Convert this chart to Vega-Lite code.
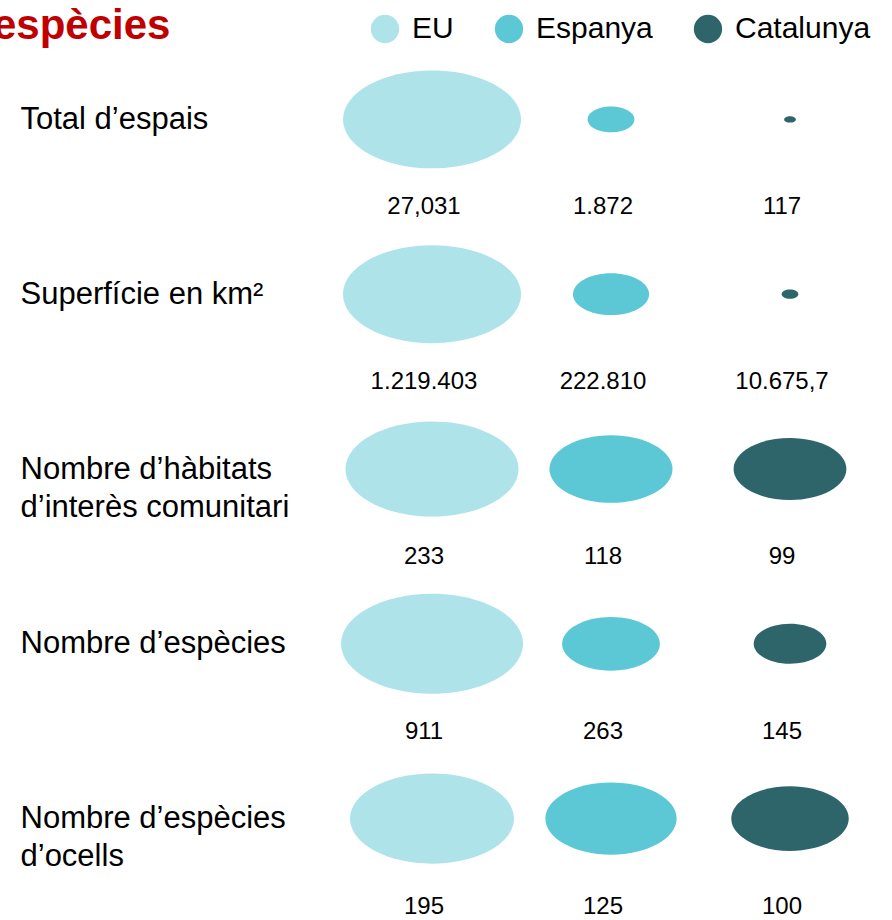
{
  "$schema": "https://vega.github.io/schema/vega-lite/v6.json",
  "autosize": "none",
  "width": 892,
  "height": 902,
  "padding": {"top": 18, "left": 0, "right": 0, "bottom": 0},
  "background": "white",
  "config": {"view": {"stroke": null}, "font": "Liberation Sans"},
  "title": {"text": "espècies", "anchor": "start", "frame": "group", "fontSize": 42, "fontWeight": "bold", "color": "#C00000", "font": "Liberation Sans", "dx": -7, "dy": 38},
  "data": {"values": [
    {"m": "Total d’espais", "c": "EU", "v": 27031, "t": "27,031"},
    {"m": "Total d’espais", "c": "Espanya", "v": 1872, "t": "1.872"},
    {"m": "Total d’espais", "c": "Catalunya", "v": 117, "t": "117"},
    {"m": "Superfície en km²", "c": "EU", "v": 1219403, "t": "1.219.403"},
    {"m": "Superfície en km²", "c": "Espanya", "v": 222810, "t": "222.810"},
    {"m": "Superfície en km²", "c": "Catalunya", "v": 10675.7, "t": "10.675,7"},
    {"m": "Nombre d’hàbitats|d’interès comunitari", "c": "EU", "v": 233, "t": "233"},
    {"m": "Nombre d’hàbitats|d’interès comunitari", "c": "Espanya", "v": 118, "t": "118"},
    {"m": "Nombre d’hàbitats|d’interès comunitari", "c": "Catalunya", "v": 99, "t": "99"},
    {"m": "Nombre d’espècies", "c": "EU", "v": 911, "t": "911"},
    {"m": "Nombre d’espècies", "c": "Espanya", "v": 263, "t": "263"},
    {"m": "Nombre d’espècies", "c": "Catalunya", "v": 145, "t": "145"},
    {"m": "Nombre d’espècies|d’ocells", "c": "EU", "v": 195, "t": "195"},
    {"m": "Nombre d’espècies|d’ocells", "c": "Espanya", "v": 125, "t": "125"},
    {"m": "Nombre d’espècies|d’ocells", "c": "Catalunya", "v": 100, "t": "100"}
  ]},
  "encoding": {
    "x": {"field": "c", "type": "nominal", "sort": null, "scale": {"range": [432, 790], "padding": 0}, "axis": null},
    "y": {"field": "m", "type": "nominal", "sort": null, "scale": {"padding": 0.58},
      "axis": {"title": null, "domain": false, "ticks": false, "grid": false, "labelAlign": "left", "labelPadding": -20, "labelFontSize": 31, "labelLineHeight": 38, "labelFont": "Liberation Sans", "labelColor": "black", "labelBaseline": "middle", "labelLimit": 500, "labelExpr": "split(datum.label, '|')"}}
  },
  "layer": [
    {"transform": [{"filter": {"field": "m", "equal": "Total d’espais"}}],
     "mark": {"type": "point", "filled": true, "opacity": 1, "shape": "M-1,0A1,0.55,0,1,0,1,0A1,0.55,0,1,0,-1,0Z"},
     "encoding": {"size": {"field": "v", "type": "quantitative", "scale": {"range": [0, 31684], "zero": true}, "legend": null},
       "color": {"field": "c", "type": "nominal", "sort": null, "scale": {"domain": ["EU", "Espanya", "Catalunya"], "range": ["#AEE3E9", "#5CC8D6", "#2D656A"]},
         "legend": {"title": null, "orient": "none", "direction": "horizontal", "legendX": 370, "legendY": -4, "symbolType": "circle", "symbolSize": 800, "symbolOpacity": 1, "symbolStrokeWidth": 0, "labelFontSize": 30, "labelFont": "Liberation Sans", "labelColor": "black", "labelOffset": 12, "columnPadding": 40, "padding": 0}}}},
    {"transform": [{"filter": {"field": "m", "equal": "Superfície en km²"}}],
     "mark": {"type": "point", "filled": true, "opacity": 1, "shape": "M-1,0A1,0.55,0,1,0,1,0A1,0.55,0,1,0,-1,0Z"},
     "encoding": {"size": {"field": "v", "type": "quantitative", "scale": {"range": [0, 31684], "zero": true}, "legend": null},
       "color": {"field": "c", "type": "nominal", "sort": null}}},
    {"transform": [{"filter": {"field": "m", "equal": "Nombre d’hàbitats|d’interès comunitari"}}],
     "mark": {"type": "point", "filled": true, "opacity": 1, "shape": "M-1,0A1,0.55,0,1,0,1,0A1,0.55,0,1,0,-1,0Z"},
     "encoding": {"size": {"field": "v", "type": "quantitative", "scale": {"range": [0, 29929], "zero": true}, "legend": null},
       "color": {"field": "c", "type": "nominal", "sort": null}}},
    {"transform": [{"filter": {"field": "m", "equal": "Nombre d’espècies"}}],
     "mark": {"type": "point", "filled": true, "opacity": 1, "shape": "M-1,0A1,0.55,0,1,0,1,0A1,0.55,0,1,0,-1,0Z"},
     "encoding": {"size": {"field": "v", "type": "quantitative", "scale": {"range": [0, 33124], "zero": true}, "legend": null},
       "color": {"field": "c", "type": "nominal", "sort": null}}},
    {"transform": [{"filter": {"field": "m", "equal": "Nombre d’espècies|d’ocells"}}],
     "mark": {"type": "point", "filled": true, "opacity": 1, "shape": "M-1,0A1,0.55,0,1,0,1,0A1,0.55,0,1,0,-1,0Z"},
     "encoding": {"size": {"field": "v", "type": "quantitative", "scale": {"range": [0, 26896], "zero": true}, "legend": null},
       "color": {"field": "c", "type": "nominal", "sort": null}}},
    {"mark": {"type": "text", "dy": 88, "dx": -8, "fontSize": 24, "font": "Liberation Sans", "color": "black", "baseline": "middle"},
     "encoding": {"text": {"field": "t"}}}
  ],
  "resolve": {"scale": {"size": "independent"}}
}
